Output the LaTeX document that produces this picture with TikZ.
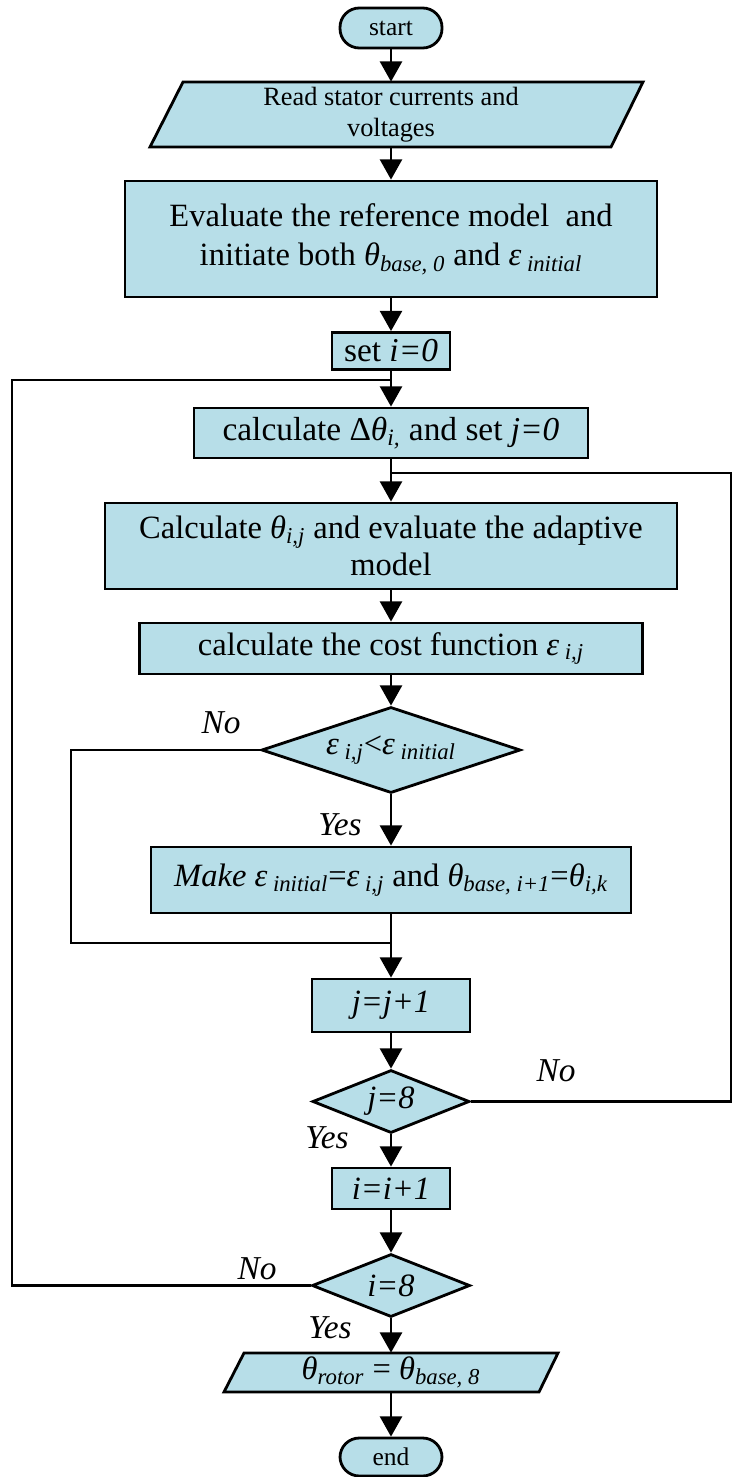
\documentclass[tikz,border=0pt]{standalone}
\usepackage{fontspec}
\setmainfont{Liberation Serif}
\usetikzlibrary{arrows.meta,shapes.geometric}
\definecolor{boxfill}{HTML}{B7DEE8}
% one drawing unit of the layout grid
\def\pxu{0.02cm}
% italic subscript used for the indices
\newcommand{\idx}[1]{\textsubscript{\itshape #1}}

\begin{document}
\begin{tikzpicture}[x=0.02cm,y=-0.02cm,
  base/.style={draw=black,line width=1.6pt,fill=boxfill,inner sep=0pt,align=center,
               font=\fontsize{18.5}{21}\selectfont},
  proc/.style={base,rectangle},
  term/.style={base,rectangle,rounded corners=11pt,font=\fontsize{14.5}{16}\selectfont},
  cond/.style={base,diamond},
  iobox/.style={draw=black,line width=1.6pt,fill=boxfill,line join=miter},
  iotext/.style={inner sep=0pt,align=center},
  flow/.style={line width=1.5pt,-{Triangle[width=12.5pt,length=11.5pt]}},
  link/.style={line width=1.5pt},
  lbl/.style={font=\fontsize{19}{19}\selectfont\itshape}
]
\useasboundingbox (0,0) rectangle (733,1477);
\fill[white] (0,0) rectangle (733,1477);

% terminal
\node[term, minimum width=102*\pxu, minimum height=40*\pxu] (start) at (391,28) {start};

% input parallelogram
\draw[iobox] (183,82) -- (643,82) -- (611,147) -- (150,147) -- cycle;
\node[iotext, minimum width=400*\pxu, minimum height=65*\pxu,
      font=\fontsize{15}{17.6}\selectfont] (read) at (391,114.5)
  {Read stator currents and\\voltages};

% initialisation
\node[proc, minimum width=532*\pxu, minimum height=116*\pxu,
      font=\fontsize{18.5}{22.7}\selectfont] (eval) at (391,239)
  {Evaluate the reference model\ \ and\\initiate both {\itshape θ}\idx{base, 0} and {\itshape ε}\idx{\ initial}};

\node[proc, minimum width=118*\pxu, minimum height=37*\pxu,
      font=\fontsize{19}{21}\selectfont] (seti) at (391,351)
  {set {\itshape i=0}};

\node[proc, minimum width=394*\pxu, minimum height=50*\pxu,
      font=\fontsize{19}{21}\selectfont] (calcd) at (391,433)
  {calculate Δ{\itshape θ}\idx{i,} and set {\itshape j=0}};

\node[proc, minimum width=572*\pxu, minimum height=86*\pxu] (calct) at (391,546)
  {Calculate {\itshape θ}\idx{i,j} and evaluate the adaptive\\model};

\node[proc, minimum width=503*\pxu, minimum height=51*\pxu] (cost) at (391,648.5)
  {calculate the cost function {\itshape ε}\idx{\ i,j}};

\node[cond, shape aspect=3, minimum width=259*\pxu, minimum height=86*\pxu] (d1) at (391,750)
  {{\itshape ε}\idx{\ i,j}<{\itshape ε}\idx{\ initial}};

\node[proc, minimum width=480*\pxu, minimum height=66*\pxu] (make) at (391,880)
  {{\itshape Make ε}\idx{\ initial}={\itshape ε}\idx{\ i,j} and {\itshape θ}\idx{base, i+1}={\itshape θ}\idx{i,k}};

\node[proc, minimum width=158*\pxu, minimum height=53*\pxu] (jj) at (391,1005.5)
  {{\itshape j=j+1}};

\node[cond, shape aspect=2.5, minimum width=157*\pxu, minimum height=63*\pxu] (d2) at (391,1101.5)
  {{\itshape j=8}};

\node[proc, minimum width=118*\pxu, minimum height=41*\pxu] (ii) at (391,1188.5)
  {{\itshape i=i+1}};

\node[cond, shape aspect=2.5, minimum width=158*\pxu, minimum height=63*\pxu] (d3) at (391,1285.5)
  {{\itshape i=8}};

% output parallelogram
\draw[iobox] (244,1353) -- (558,1353) -- (539,1392) -- (224,1392) -- cycle;
\node[iotext, minimum width=300*\pxu, minimum height=39*\pxu,
      font=\fontsize{18.5}{21}\selectfont] (out) at (391,1372.5)
  {{\itshape θ}\idx{rotor} = {\itshape θ}\idx{base, 8}};

\node[term, minimum width=102*\pxu, minimum height=38*\pxu] (end) at (391,1457) {end};

% junction points of the loops
\coordinate (m3) at (391,380);
\coordinate (l3) at (12,380);
\coordinate (m2) at (391,473);
\coordinate (r2) at (731,473);
\coordinate (m1) at (391,943);
\coordinate (l1) at (71,943);

% main flow
\draw[flow] (start) -- (read);
\draw[flow] (read) -- (eval);
\draw[flow] (eval) -- (seti);
\draw[flow] (seti) -- (calcd);
\draw[flow] (calcd) -- (calct);
\draw[flow] (calct) -- (cost);
\draw[flow] (cost) -- (d1);
\draw[flow] (d1) -- (make);
\draw[flow] (make) -- (jj);
\draw[flow] (jj) -- (d2);
\draw[flow] (d2) -- (ii);
\draw[flow] (ii) -- (d3);
\draw[flow] (d3.south) -- (out.north);
\draw[flow] (out.south) -- (end);

% loop-back lines
\draw[link] (d1.west) -| (l1) -- (m1);
\draw[link] (d2.east) -| (r2) -- (m2);
\draw[link] (d3.west) -| (l3) -- (m3);

% branch labels
\node[lbl] (no1) at (221,723) {No};
\node[lbl] (yes1) at (340,825) {Yes};
\node[lbl] (no2) at (556,1071) {No};
\node[lbl] (yes2) at (327,1138) {Yes};
\node[lbl] (no3) at (257,1269) {No};
\node[lbl] (yes3) at (330,1328) {Yes};
\end{tikzpicture}
\end{document}
